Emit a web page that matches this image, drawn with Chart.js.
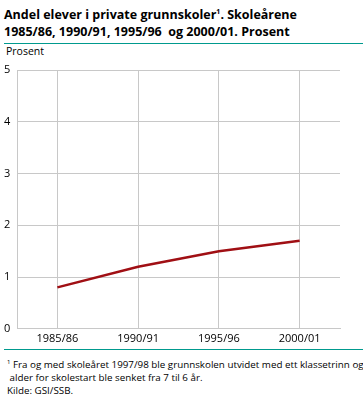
<!DOCTYPE html>
<html>
<head>
<meta charset="utf-8">
<script src="https://cdn.jsdelivr.net/npm/chart.js@4"></script>
<style>
  body { margin: 0; background: #fff; font-family: "Open Sans", sans-serif; }
  #wrap { position: relative; width: 363px; height: 396px; overflow: hidden; }
  .title { position: absolute; left: 4px; top: 3px; font-size: 12.5px; font-weight: bold; line-height: 17px; color: #000; }
  .title sup { font-size: 7px; }
  .rule { position: absolute; left: 4px; width: 359px; height: 1px; background: #009a8e; }
  .unit { position: absolute; left: 6px; top: 44px; font-size: 10.5px; color: #000; }
  .note { position: absolute; left: 7px; top: 356px; font-size: 9.8px; line-height: 12.8px; color: #000; white-space: nowrap; }
  .note sup { font-size: 6px; }
  #box { position: absolute; left: 0; top: 58px; width: 363px; height: 290px; }
</style>
</head>
<body>
<div id="wrap">
  <div class="title">Andel elever i private grunnskoler<sup>1</sup>. Skoleårene<br>1985/86, 1990/91, 1995/96 &nbsp;og 2000/01. Prosent</div>
  <div class="rule" style="top:43px"></div>
  <div class="unit">Prosent</div>
  <div id="box"><canvas id="chart"></canvas></div>
  <div class="rule" style="top:349px"></div>
  <div class="note"><sup>1</sup> Fra og med skoleåret 1997/98 ble grunnskolen utvidet med ett klassetrinn og<br>&nbsp;alder for skolestart ble senket fra 7 til 6 år.<br>Kilde: GSI/SSB.</div>
</div>
<script>
// skoleår og andel (prosent)
const skoleaar = ['1985/86', '1990/91', '1995/96', '2000/01'];
const andelPrivat = [0.8, 1.2, 1.5, 1.7];
const yTicks = [0, 1, 2, 3, 4, 5];

new Chart(document.getElementById('chart'), {
  type: 'line',
  data: {
    labels: skoleaar,
    datasets: [
      {
        data: andelPrivat,
        borderColor: '#a00f14',
        borderWidth: 2.5,
        pointRadius: 0,
        tension: 0,
      },
    ],
  },
  options: {
    responsive: true,
    maintainAspectRatio: false,
    animation: false,
    layout: { padding: { top: 12, right: 23, left: 4, bottom: 0 } },
    plugins: { legend: { display: false }, tooltip: { enabled: false } },
    scales: {
      x: {
        offset: true,
        grid: { offset: false, color: '#c8c8c8', lineWidth: 1, drawTicks: false },
        border: { color: '#c8c8c8', width: 1 },
        ticks: { color: '#000', font: { family: 'Open Sans', size: 11 }, padding: 3, maxRotation: 0 },
      },
      y: {
        min: 0,
        max: 5,
        afterBuildTicks: (scale) => { scale.ticks = yTicks.map((v) => ({ value: v })); },
        afterFit: (scale) => { scale.width = 13; },
        grid: { color: '#c8c8c8', lineWidth: 1, drawTicks: false },
        border: { color: '#c8c8c8', width: 1 },
        ticks: { color: '#000', font: { family: 'Open Sans', size: 11 }, align: 'center', crossAlign: 'far', padding: 4 },
      },
    },
  },
});
</script>
</body>
</html>
